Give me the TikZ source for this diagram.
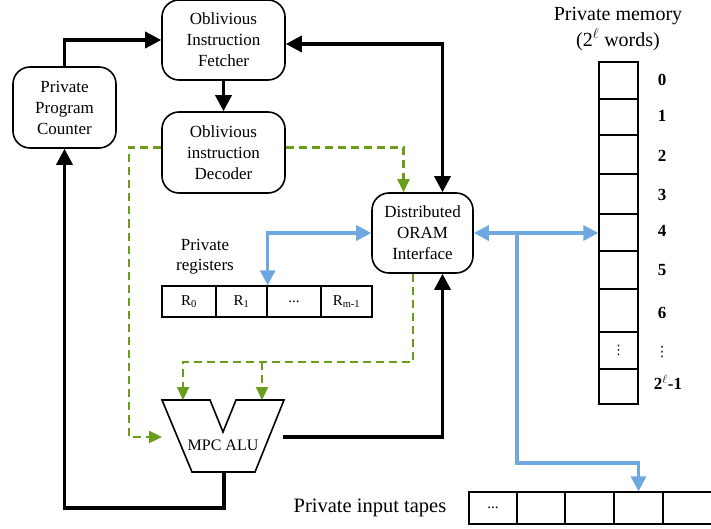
\documentclass[tikz,border=0pt]{standalone}
\usepackage{fontspec}
\setmainfont{Liberation Serif}
\newfontfamily\dejavu{DejaVu Sans}
\usetikzlibrary{arrows.meta}
\definecolor{grn}{RGB}{106,158,26}
\definecolor{blu}{RGB}{111,168,222}
\begin{document}
\begin{tikzpicture}[x=1pt,y=-1pt,
  box/.style={draw,line width=1.6pt,rounded corners=17pt,align=center,inner sep=0pt,font=\fontsize{17}{21}\selectfont},
  cell/.style={draw,line width=1.4pt,inner sep=0pt},
  lbl/.style={align=center,inner sep=0pt},
  blk/.style={line width=3.5pt,>={Triangle[length=16pt,width=16pt]}},
  blu/.style={draw=blu,line width=3.2pt,>={Triangle[length=15pt,width=15pt,color=blu]}},
  grn/.style={draw=grn,line width=2.3pt,dash pattern=on 8pt off 5pt,>={Triangle[length=13pt,width=12pt,color=grn]}},
  num/.style={inner sep=0pt,font=\bfseries\fontsize{17}{20}\selectfont}
]
\useasboundingbox (0,0) rectangle (711,529);

% main boxes
\node[box,minimum width=123pt,minimum height=80pt] (fetch) at (223.5,40) {Oblivious\\Instruction\\Fetcher};
\node[box,minimum width=123pt,minimum height=81pt] (dec) at (223.5,152.5) {Oblivious\\instruction\\Decoder};
\node[box,minimum width=103pt,minimum height=81pt] (pc) at (64.5,107.5) {Private\\Program\\Counter};
\node[box,minimum width=101pt,minimum height=80pt] (oram) at (422.5,233) {Distributed\\ORAM\\Interface};

% registers
\node[lbl,font=\fontsize{17}{20}\selectfont] (reglbl) at (205,257) {Private\\registers};
\begin{scope}[every node/.style={cell,minimum height=31pt,font=\fontsize{15}{17}\selectfont}]
\node[minimum width=54pt] (r0) at (189,301.5) {R\textsubscript{0}};
\node[minimum width=51pt] (r1) at (241.5,301.5) {R\textsubscript{1}};
\node[minimum width=54pt] (r2) at (294,301.5) {...};
\node[minimum width=51pt] (r3) at (346.5,301.5) {R\textsubscript{m-1}};
\end{scope}

% ALU
\draw[line width=1.6pt,line join=miter] (162,400) -- (210,400) -- (223,432) -- (236,400) -- (284,400) -- (255,472) -- (192,472) -- cycle;
\node[inner sep=0pt,font=\fontsize{16}{18}\selectfont] (alu) at (223,445) {MPC ALU};
\coordinate (aluin) at (162,437);
\coordinate (alua) at (183,400);
\coordinate (alub) at (262,400);
\coordinate (aluout) at (283,437);
\coordinate (alubot) at (224,472);

% memory
\node[lbl,font=\fontsize{20}{26}\selectfont] (memlbl) at (618,29) {Private memory\\(2\textsuperscript{$\ell$} words)};
\begin{scope}[every node/.style={cell,minimum width=39pt}]
\node[minimum height=37pt] (m0) at (618.5,80.5) {};
\node[minimum height=36pt] (m1) at (618.5,117) {};
\node[minimum height=39pt] (m2) at (618.5,154.5) {};
\node[minimum height=40pt] (m3) at (618.5,194) {};
\node[minimum height=37pt] (m4) at (618.5,232.5) {};
\node[minimum height=38pt] (m5) at (618.5,270) {};
\node[minimum height=43pt] (m6) at (618.5,310.5) {};
\node[minimum height=37pt,font=\dejavu\fontsize{13}{15}\selectfont] (m7) at (618.5,350.5) {⋮};
\node[minimum height=35pt] (m8) at (618.5,386.5) {};
\end{scope}
\node[num] (n0) at (662,80) {0};
\node[num] (n1) at (662,116) {1};
\node[num] (n2) at (662,156) {2};
\node[num] (n3) at (662,195) {3};
\node[num] (n4) at (662,231) {4};
\node[num] (n5) at (662,270) {5};
\node[num] (n6) at (662,313) {6};
\node[num,font=\dejavu\fontsize{14}{16}\selectfont] (n7) at (662,352) {⋮};
\node[num] (n8) at (668,382) {2\textsuperscript{$\ell$}-1};

% tapes
\node[inner sep=0pt,font=\fontsize{20.5}{24}\selectfont] (tapelbl) at (370,508) {Private input tapes};
\begin{scope}[every node/.style={cell,minimum height=32pt,font=\fontsize{15}{17}\selectfont}]
\node[minimum width=48pt] (t1) at (493,508) {...};
\node[minimum width=48pt] (t2) at (541,508) {};
\node[minimum width=49pt] (t3) at (589.5,508) {};
\node[minimum width=49pt] (t4) at (638.5,508) {};
\node[minimum width=52pt] (t5) at (689,508) {};
\end{scope}

% black connectors
\draw[blk,->] (pc.north) |- (fetch.west);
\draw[blk,->] (fetch.south) -- (dec.north);
\draw[blk,<->] ([yshift=-4pt]fetch.east) -| ([xshift=20pt]oram.north);
\draw[blk,->] (aluout) -| ([xshift=20pt]oram.south);
\draw[blk,->] (alubot) -- ++(0,36) -| (pc.south);

% green dashed connectors
\draw[grn,->] ([yshift=5pt]dec.east) -| ([xshift=-19pt]oram.north);
\draw[grn,->] ([yshift=5pt]dec.west) -- ++(-32,0) |- (aluin);
\draw[grn,->] ([xshift=-9.5pt]oram.south) |- (183,362) -- (alua);
\draw[grn,->] (262,362) -- (alub);

% blue connectors
\draw[blu,<->] (r1.north east) |- (oram.west);
\draw[blu,<->] (oram.east) -- (oram.east -| m4.west);
\coordinate (br) at (517,233);
\draw[blu,->] (br) -- (517,463) -| (t4.north);
\end{tikzpicture}
\end{document}
